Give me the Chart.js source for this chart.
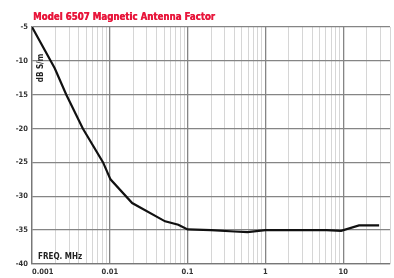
<!DOCTYPE html>
<html><head><meta charset="utf-8">
<script src="https://cdn.jsdelivr.net/npm/chart.js@4"></script>
<style>html,body{margin:0;padding:0;background:#fff}#w{width:394px;height:278px;position:relative}</style>
</head><body><div id="w"><canvas id="c" width="394" height="278"></canvas></div>
<script>
const title = "Model 6507 Magnetic Antenna Factor";
const yAxisText = "dB S/m";
const xAxisText = "FREQ. MHz";
const freqMHz = [0.001, 0.00196, 0.00276, 0.0045, 0.0082, 0.0102, 0.0194, 0.0514, 0.076, 0.1, 0.2, 0.4, 0.59, 1.0, 6.1, 9.4, 16, 29];
const factorDb = [-5, -11.1, -15, -20, -25, -27.5, -31.0, -33.7, -34.2, -34.9, -35.0, -35.2, -35.3, -35.0, -35.0, -35.1, -34.3, -34.3];
const xTickLabels = ["0.001", "0.01", "0.1", "1", "10"];
const xMin = 0.001, xMax = 40;
const yMin = -40, yMax = -5, yStep = 5;

const FONT = "'Liberation Sans Narrow','DejaVu Sans Condensed',sans-serif";
const isDecade = v => Math.abs(Math.log10(v) - Math.round(Math.log10(v))) < 1e-6;

const textPlugin = {
  id: 'texts',
  afterDraw(chart) {
    const ctx = chart.ctx, a = chart.chartArea;
    ctx.save();
    ctx.fillStyle = '#e8173c';
    ctx.font = "bold 10.5px " + FONT;
    ctx.textBaseline = 'alphabetic';
    ctx.textAlign = 'left';
    const w = ctx.measureText(title).width;
    ctx.save();
    ctx.translate(33, 20);
    ctx.scale(182 / w, 1);
    ctx.fillText(title, 0, 0);
    ctx.fillText(title, 0.4, 0);
    ctx.restore();
    ctx.fillStyle = '#222';
    ctx.font = "bold 8px " + FONT;
    ctx.fillText(xAxisText, a.left + 6, a.bottom - 5);
    ctx.translate(a.left + 9, a.top + 41);
    ctx.rotate(-Math.PI / 2);
    ctx.textAlign = 'center';
    ctx.textBaseline = 'middle';
    ctx.fillText(yAxisText, 0, 0);
    ctx.restore();
  }
};

new Chart(document.getElementById('c'), {
  type: 'line',
  data: {
    datasets: [{
      data: freqMHz.map((f, i) => ({x: f, y: factorDb[i]})),
      borderColor: '#111',
      borderWidth: 2.2,
      pointRadius: 0,
      tension: 0,
      fill: false
    }]
  },
  options: {
    responsive: false,
    animation: false,
    layout: {padding: {top: 27, right: -3, left: 0, bottom: 0}},
    plugins: {legend: {display: false}, tooltip: {enabled: false}, title: {display: false}},
    scales: {
      x: {
        type: 'logarithmic',
        min: xMin, max: xMax,
        afterBuildTicks(scale) {
          const t = [];
          for (let e = -3; e <= 1; e++) {
            for (let m = 1; m <= 9; m++) {
              const v = +(m * Math.pow(10, e)).toPrecision(6);
              if (v <= xMax) t.push({value: v});
            }
          }
          t.push({value: xMax});
          scale.ticks = t;
        },
        afterFit(scale) { scale.height = 14; },
        ticks: {
          autoSkip: false, maxRotation: 0, align: 'inner', padding: 4,
          color: '#333', font: {family: FONT, size: 7.5, weight: 'bold'},
          callback(v) {
            if (!isDecade(v)) return '';
            const s = xTickLabels.find(l => Math.abs(parseFloat(l) - v) < v * 1e-6);
            return s || '';
          }
        },
        grid: {
          color: c => (c.tick && isDecade(c.tick.value)) ? '#858585' : '#d6d6d6',
          lineWidth: c => (c.tick && isDecade(c.tick.value)) ? 1.3 : 1,
          drawTicks: false
        },
        border: {color: '#777', width: 1.3}
      },
      y: {
        min: yMin, max: yMax,
        afterFit(scale) { scale.width = 32; },
        ticks: {
          stepSize: yStep, padding: 4,
          color: '#333', font: {family: FONT, size: 7.5, weight: 'bold'},
          callback: v => String(v)
        },
        grid: {color: '#858585', lineWidth: 1.3, drawTicks: false},
        border: {color: '#777', width: 1.3}
      }
    }
  },
  plugins: [textPlugin]
});
</script></body></html>
